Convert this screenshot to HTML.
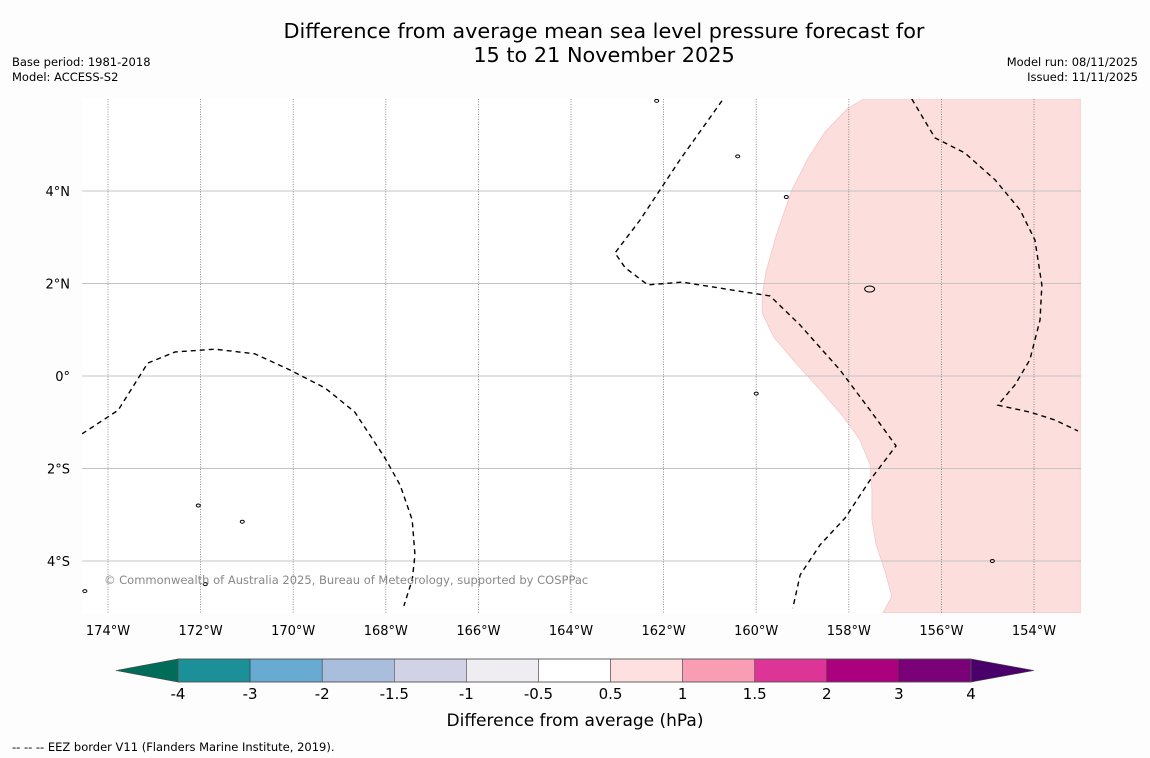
<!DOCTYPE html>
<html><head><meta charset="utf-8">
<style>
body{margin:0;background:#fdfdfd;font-family:"DejaVu Sans","Liberation Sans",sans-serif;}
#wrap{position:relative;width:1150px;height:758px;overflow:hidden;}
svg text{font-family:"DejaVu Sans","Liberation Sans",sans-serif;}
</style></head>
<body><div id="wrap">
<svg id="svg" width="1150" height="758" xmlns="http://www.w3.org/2000/svg">
<text x="604" y="38" font-size="20.8" text-anchor="middle" fill="#000">Difference from average mean sea level pressure forecast for</text>
<text x="604" y="62" font-size="20.8" text-anchor="middle" fill="#000">15 to 21 November 2025</text>
<text x="12" y="66" font-size="11.5">Base period: 1981-2018</text>
<text x="12" y="81" font-size="11.5">Model: ACCESS-S2</text>
<text x="1138" y="66" font-size="11.5" text-anchor="end">Model run: 08/11/2025</text>
<text x="1138" y="81" font-size="11.5" text-anchor="end">Issued: 11/11/2025</text>
<g id="map"></g>
<g id="cbar"></g>
<text x="575" y="726" font-size="17" text-anchor="middle">Difference from average (hPa)</text>
<text x="12" y="751" font-size="11.5">--  --  -- EEZ border V11 (Flanders Marine Institute, 2019).</text>
</svg></div>
<script>
const lonTicks=[-174,-172,-170,-168,-166,-164,-162,-160,-158,-156,-154];
const latTicks=[4,2,0,-2,-4];
const pinkLon=[-157.67,-158.02,-158.51,-158.88,-159.23,-159.57,-159.79,-159.87,-159.87,-159.62,-159.16,-158.62,-158.15,-157.76,-157.54,-157.50,-157.50,-157.41,-157.24,-157.07,-157.26,-153.0,-153.0];
const pinkLat=[5.99,5.79,5.28,4.71,4.02,3.03,2.25,1.75,1.36,0.84,0.30,-0.30,-0.84,-1.38,-1.92,-2.46,-3.11,-3.65,-4.15,-4.76,-5.12,-5.12,5.99];
const eezALon=[-174.56,-173.78,-173.14,-172.55,-171.69,-170.83,-170.07,-169.31,-168.67,-168.02,-167.69,-167.43,-167.37,-167.43,-167.61];
const eezALat=[-1.25,-0.74,0.28,0.52,0.58,0.48,0.13,-0.26,-0.78,-1.77,-2.36,-3.11,-3.87,-4.41,-4.97];
const eezBLon=[-160.74,-161.65,-162.51,-163.05,-162.83,-162.34,-161.60,-160.78,-159.70,-159.05,-158.19,-157.54,-156.98,-157.54,-158.08,-158.62,-159.05,-159.21];
const eezBLat=[5.95,4.67,3.37,2.66,2.34,1.97,2.03,1.90,1.73,1.10,0.13,-0.74,-1.51,-2.25,-3.07,-3.65,-4.30,-5.02];
const eezCLon=[-156.64,-156.14,-155.49,-154.84,-154.30,-153.98,-153.83,-153.87,-154.09,-154.41,-154.78,-154.09,-153.55,-153.05];
const eezCLat=[5.99,5.15,4.82,4.24,3.59,2.94,1.97,1.21,0.35,-0.19,-0.63,-0.78,-0.95,-1.19];
const islandLon=[-159.35,-157.55,-172.05,-171.1,-171.9,-154.9,-162.15,-160.4,-174.5,-160.0];
const islandLat=[3.87,1.88,-2.8,-3.15,-4.5,-4.0,5.95,4.75,-4.65,-0.38];
const cbLabels=["-4","-3","-2","-1.5","-1","-0.5","0.5","1","1.5","2","3","4"];
const cbColors=["#1b9099","#67aad2","#a8bedc","#d1d2e6","#efedf1","#ffffff","#fde0df","#f99db5","#dc3597","#ac017e","#7a0177"];
const ns="http://www.w3.org/2000/svg";
const X0=82,X1=1081,Y0=99,Y1=613;
const xs=lon=>108+(lon+174)*46.3;
const ys=lat=>376-lat*46.25;
const map=document.getElementById('map');
function mk(tag,attrs,parent){const e=document.createElementNS(ns,tag);for(const k in attrs)e.setAttribute(k,attrs[k]);parent.appendChild(e);return e;}
const clip=mk('clipPath',{id:'mc'},map);mk('rect',{x:X0,y:Y0,width:X1-X0,height:Y1-Y0},clip);
const g=mk('g',{'clip-path':'url(#mc)'},map);
mk('rect',{x:X0,y:Y0,width:X1-X0,height:Y1-Y0,fill:'#fff'},g);
const pink=mk('polygon',{points:pinkLon.map((l,i)=>xs(l)+','+ys(pinkLat[i])).join(' '),fill:'#fcdedd',stroke:'#f4c8c6','stroke-width':0.8},g);


lonTicks.forEach(l=>{
 const ln=mk('line',{x1:xs(l),x2:xs(l),y1:Y0,y2:Y1,stroke:'#777','stroke-width':0.8,'stroke-dasharray':'1,1.5'},g);
 
 
 const t=mk('text',{x:xs(l),y:635,'font-size':13,'text-anchor':'middle'},document.getElementById('svg'));
 t.textContent=Math.abs(l)+'°W';
 
 
});
latTicks.forEach(l=>{
 const ln=mk('line',{x1:X0,x2:X1,y1:ys(l),y2:ys(l),stroke:'#c4c4c4','stroke-width':1},g);
 
 
 const t=mk('text',{x:70,y:ys(l)+5,'font-size':13,'text-anchor':'end'},document.getElementById('svg'));
 t.textContent=l===0?'0°':Math.abs(l)+'°'+(l>0?'N':'S');
 
 
});
[[eezALon,eezALat],[eezBLon,eezBLat],[eezCLon,eezCLat]].forEach(([lo,la])=>{
 const p=mk('polyline',{points:lo.map((l,i)=>xs(l)+','+ys(la[i])).join(' '),fill:'none',stroke:'#000','stroke-width':1.4,'stroke-dasharray':'5,4'},g);
 
 
});
islandLon.forEach((l,i)=>{
 const e=mk('ellipse',{cx:xs(l),cy:ys(islandLat[i]),rx:i===1?5:2,ry:i===1?3:1.5,fill:'none',stroke:'#000','stroke-width':1},g);
 
 
});
const cr=mk('text',{x:104,y:584,'font-size':11.5,fill:'#888'},g);
cr.textContent='© Commonwealth of Australia 2025, Bureau of Meteorology, supported by COSPPac';


const cb=document.getElementById('cbar');
const cx0=178,cx1=971,cy0=659,cy1=682,w=(cx1-cx0)/cbColors.length;
const lt=mk('polygon',{points:`116,${(cy0+cy1)/2} ${cx0},${cy0} ${cx0},${cy1}`,fill:'#016c59',stroke:'#444','stroke-width':0.6},cb);


const rt=mk('polygon',{points:`1034,${(cy0+cy1)/2} ${cx1},${cy0} ${cx1},${cy1}`,fill:'#49006a',stroke:'#444','stroke-width':0.6},cb);


cbColors.forEach((c,i)=>{
 const r=mk('rect',{x:cx0+i*w,y:cy0,width:w,height:cy1-cy0,fill:c,stroke:'#333','stroke-width':0.5},cb);
 
 
});
mk('rect',{x:cx0,y:cy0,width:cx1-cx0,height:cy1-cy0,fill:'none',stroke:'#555','stroke-width':0.8},cb);
cbLabels.forEach((s,i)=>{
 const t=mk('text',{x:cx0+i*w,y:699,'font-size':15,'text-anchor':'middle'},cb);
 t.textContent=s;
 
 
});
</script>
</body></html>
